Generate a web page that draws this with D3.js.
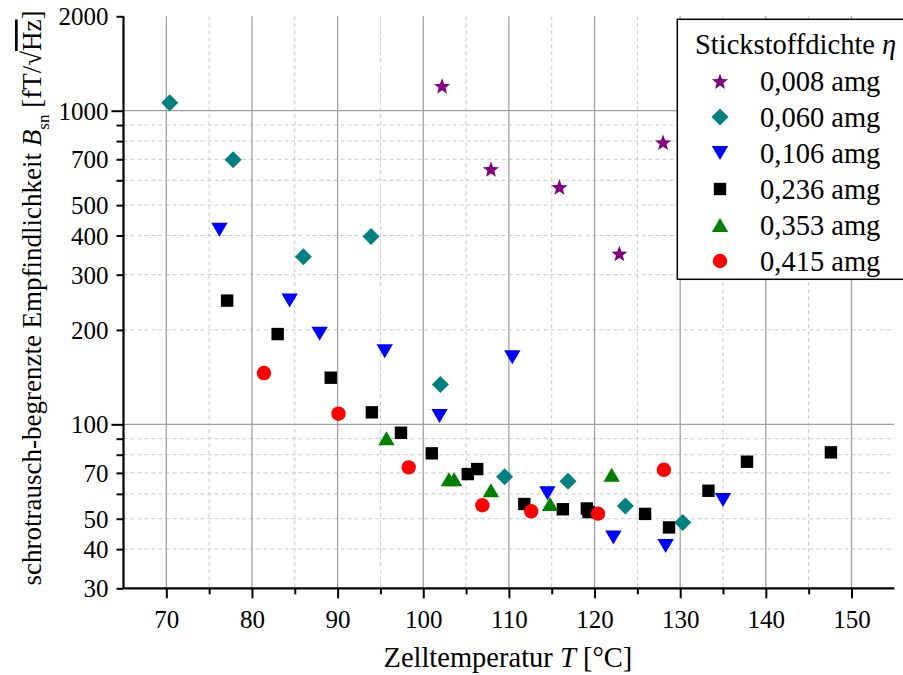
<!DOCTYPE html>
<html>
<head>
<meta charset="utf-8">
<script src="https://cdn.jsdelivr.net/npm/d3@7"></script>
<style>
  html, body { margin: 0; padding: 0; background: #fff; }
  svg { display: block; font-family: "Liberation Serif", "Times New Roman", serif; }
</style>
</head>
<body>
<svg id="chart" width="903" height="675"></svg>
<script>
// Shot-noise-limited sensitivity vs. cell temperature, one series per nitrogen density
const seriesLabels = ["0,008 amg", "0,060 amg", "0,106 amg", "0,236 amg", "0,353 amg", "0,415 amg"];
const seriesColors = ["#800080", "#008080", "#0000ff", "#000000", "#008000", "#ff0000"];
const seriesShapes = ["star", "diamond", "triangleDown", "square", "triangleUp", "circle"];

// temperatures T [°C]
const t008 = [102.2, 107.9, 115.9, 122.9, 128.0];
const t060 = [70.4, 77.8, 86.0, 93.9, 102.0, 109.5, 116.9, 123.6, 130.3];
const t106 = [76.2, 84.4, 87.9, 95.5, 110.4, 101.9, 114.5, 122.2, 128.3, 135.0];
const t236 = [77.1, 83.0, 89.2, 94.0, 97.4, 101.0, 105.2, 106.3, 111.8, 116.3, 119.1, 119.3, 125.9, 128.7, 133.3, 137.8, 147.6];
const t353 = [95.7, 103.0, 103.6, 107.9, 114.8, 122.0];
const t415 = [81.4, 90.1, 98.3, 106.9, 112.6, 120.4, 128.1];

// sensitivities B_sn [fT/√Hz]
const b008 = [1201, 652, 572, 351, 794];
const b060 = [1060, 698, 342, 397, 134, 68.1, 65.8, 54.9, 48.6];
const b106 = [417, 248, 194.5, 171, 163.5, 106.3, 60.3, 43.6, 40.9, 57.4];
const b236 = [248, 194, 140.8, 109.2, 94.0, 80.8, 69.4, 72.0, 55.7, 53.6, 53.9, 52.5, 51.8, 46.9, 61.4, 76.0, 81.4];
const b353 = [90.2, 66.8, 66.8, 61.6, 55.7, 69.1];
const b415 = [145.7, 108.1, 72.9, 55.2, 52.8, 51.9, 71.6];

// axis ticks
const xMajorTicks = [70, 80, 90, 100, 110, 120, 130, 140, 150];
const xMinorTicks = [75, 85, 95, 105, 115, 125, 135, 145];
const yMajorTicks = [100, 1000];
const yMinorTicks = [30, 40, 50, 60, 70, 80, 90, 200, 300, 400, 500, 600, 700, 800, 900, 2000];
const yTickLabels = [30, 40, 50, 70, 100, 200, 300, 400, 500, 700, 1000, 2000];

const temps = [t008, t060, t106, t236, t353, t415];
const sens = [b008, b060, b106, b236, b353, b415];

const svg = d3.select("#chart");
const plotLeft = 123.5, plotRight = 894.3, plotTop = 16.3, plotBottom = 588.3;

const x = d3.scaleLinear().domain([65, 155]).range([plotLeft, plotRight]);
const y = d3.scaleLog().domain([30, 2000]).range([plotBottom, plotTop]);

// grid
const grid = svg.append("g");
grid.selectAll(".vminor").data(xMinorTicks).join("line")
  .attr("x1", d => x(d)).attr("x2", d => x(d)).attr("y1", plotTop).attr("y2", plotBottom)
  .attr("stroke", "#c8c8c8").attr("stroke-width", 1).attr("stroke-dasharray", "4,3");
grid.selectAll(".hminor").data(yMinorTicks.filter(v => v > 30 && v < 2000)).join("line")
  .attr("x1", plotLeft).attr("x2", plotRight).attr("y1", d => y(d)).attr("y2", d => y(d))
  .attr("stroke", "#c8c8c8").attr("stroke-width", 1).attr("stroke-dasharray", "4,3");
grid.selectAll(".vmajor").data(xMajorTicks).join("line")
  .attr("x1", d => x(d)).attr("x2", d => x(d)).attr("y1", plotTop).attr("y2", plotBottom)
  .attr("stroke", "#a0a0a0").attr("stroke-width", 1.3);
grid.selectAll(".hmajor").data(yMajorTicks).join("line")
  .attr("x1", plotLeft).attr("x2", plotRight).attr("y1", d => y(d)).attr("y2", d => y(d))
  .attr("stroke", "#a0a0a0").attr("stroke-width", 1.3);

// axes
const yAxis = svg.append("g").attr("transform", `translate(${plotLeft},0)`)
  .call(d3.axisLeft(y).tickValues([...yMajorTicks, ...yMinorTicks]).tickSize(7).tickSizeOuter(0)
    .tickFormat(d => yTickLabels.includes(d) ? String(d) : ""));
yAxis.select(".domain").attr("stroke", "#000").attr("stroke-width", 2.2).attr("d", `M0,${plotTop}V${plotBottom}`);
yAxis.selectAll(".tick line").attr("stroke-width", 2);
yAxis.selectAll(".tick").filter(d => yMajorTicks.includes(d)).select("line").attr("x2", -12);
yAxis.selectAll(".tick text").attr("x", -15).attr("dy", "0.34em")
  .style("font-family", "Liberation Serif").style("font-size", "25px").attr("fill", "#000");

const xAxis = svg.append("g").attr("transform", `translate(0,${plotBottom})`)
  .call(d3.axisBottom(x).tickValues(xMajorTicks).tickSize(10).tickSizeOuter(0).tickFormat(d3.format("d")));
xAxis.select(".domain").attr("stroke", "#000").attr("stroke-width", 2.2).attr("d", `M${plotLeft},0H${plotRight}`);
xAxis.selectAll(".tick line").attr("stroke-width", 2);
xAxis.selectAll(".tick text").attr("y", 22).attr("dy", "0.71em")
  .style("font-family", "Liberation Serif").style("font-size", "25px").attr("fill", "#000");
svg.append("g").attr("transform", `translate(0,${plotBottom})`)
  .call(d3.axisBottom(x).tickValues(xMinorTicks).tickSize(6).tickSizeOuter(0).tickFormat(""))
  .call(g => g.select(".domain").remove())
  .call(g => g.selectAll(".tick line").attr("stroke-width", 2));

// marker shapes
function shapePath(kind) {
  const p = d3.path();
  if (kind === "square") { p.rect(-6.2, -6.2, 12.4, 12.4); }
  else if (kind === "diamond") { p.moveTo(0, -8.5); p.lineTo(8.5, 0); p.lineTo(0, 8.5); p.lineTo(-8.5, 0); p.closePath(); }
  else if (kind === "triangleUp") { p.moveTo(0, -7); p.lineTo(8.2, 7); p.lineTo(-8.2, 7); p.closePath(); }
  else if (kind === "triangleDown") { p.moveTo(0, 7); p.lineTo(8.2, -7); p.lineTo(-8.2, -7); p.closePath(); }
  else if (kind === "circle") { p.arc(0, 0, 7.2, 0, 2 * Math.PI); p.closePath(); }
  else if (kind === "star") {
    const ro = 8.5, ri = 3.6;
    for (let i = 0; i < 10; i++) {
      const r = i % 2 === 0 ? ro : ri;
      const a = -Math.PI / 2 + i * Math.PI / 5;
      const px = r * Math.cos(a), py = r * Math.sin(a) + 1;
      if (i === 0) p.moveTo(px, py); else p.lineTo(px, py);
    }
    p.closePath();
  }
  return p.toString();
}

// points
const pts = svg.append("g");
seriesLabels.forEach((lab, i) => {
  const data = temps[i].map((t, j) => ({ t, b: sens[i][j] }));
  pts.append("g").selectAll("path").data(data).join("path")
    .attr("d", shapePath(seriesShapes[i]))
    .attr("transform", d => `translate(${x(d.t)},${y(d.b)})`)
    .attr("fill", seriesColors[i]);
});

// axis titles
svg.append("text").attr("x", (plotLeft + plotRight) / 2 - 1).attr("y", 667)
  .attr("text-anchor", "middle").style("font-size", "28.5px").attr("fill", "#000")
  .call(t => {
    t.append("tspan").text("Zelltemperatur ");
    t.append("tspan").style("font-style", "italic").text("T");
    t.append("tspan").text(" [°C]");
  });

const yt = svg.append("text").attr("transform", "translate(41,298) rotate(-90)")
  .attr("text-anchor", "middle").style("font-size", "27px").attr("fill", "#000");
yt.append("tspan").text("schrotrausch-begrenzte Empfindlichkeit ");
yt.append("tspan").style("font-style", "italic").text("B");
yt.append("tspan").attr("dy", 8).style("font-size", "17px").text("sn");
yt.append("tspan").attr("dy", -8).text(" [fT/√");
yt.append("tspan").style("text-decoration", "overline").text("Hz");
yt.append("tspan").text("]");

// legend
const lg = svg.append("g");
lg.append("rect").attr("x", 677.3).attr("y", 19.3).attr("width", 240).attr("height", 260)
  .attr("fill", "#fff").attr("stroke", "#000").attr("stroke-width", 1.5);
lg.append("text").attr("x", 695).attr("y", 54).style("font-size", "28.5px").attr("fill", "#000")
  .call(t => {
    t.append("tspan").text("Stickstoffdichte ");
    t.append("tspan").style("font-style", "italic").text("η");
  });
seriesLabels.forEach((lab, i) => {
  const cy = 81 + i * 36;
  lg.append("path").attr("d", shapePath(seriesShapes[i]))
    .attr("transform", `translate(720,${cy})`).attr("fill", seriesColors[i]);
  lg.append("text").attr("x", 760).attr("y", cy + 10).style("font-size", "28.5px").attr("fill", "#000").text(lab);
});
</script>
</body>
</html>
